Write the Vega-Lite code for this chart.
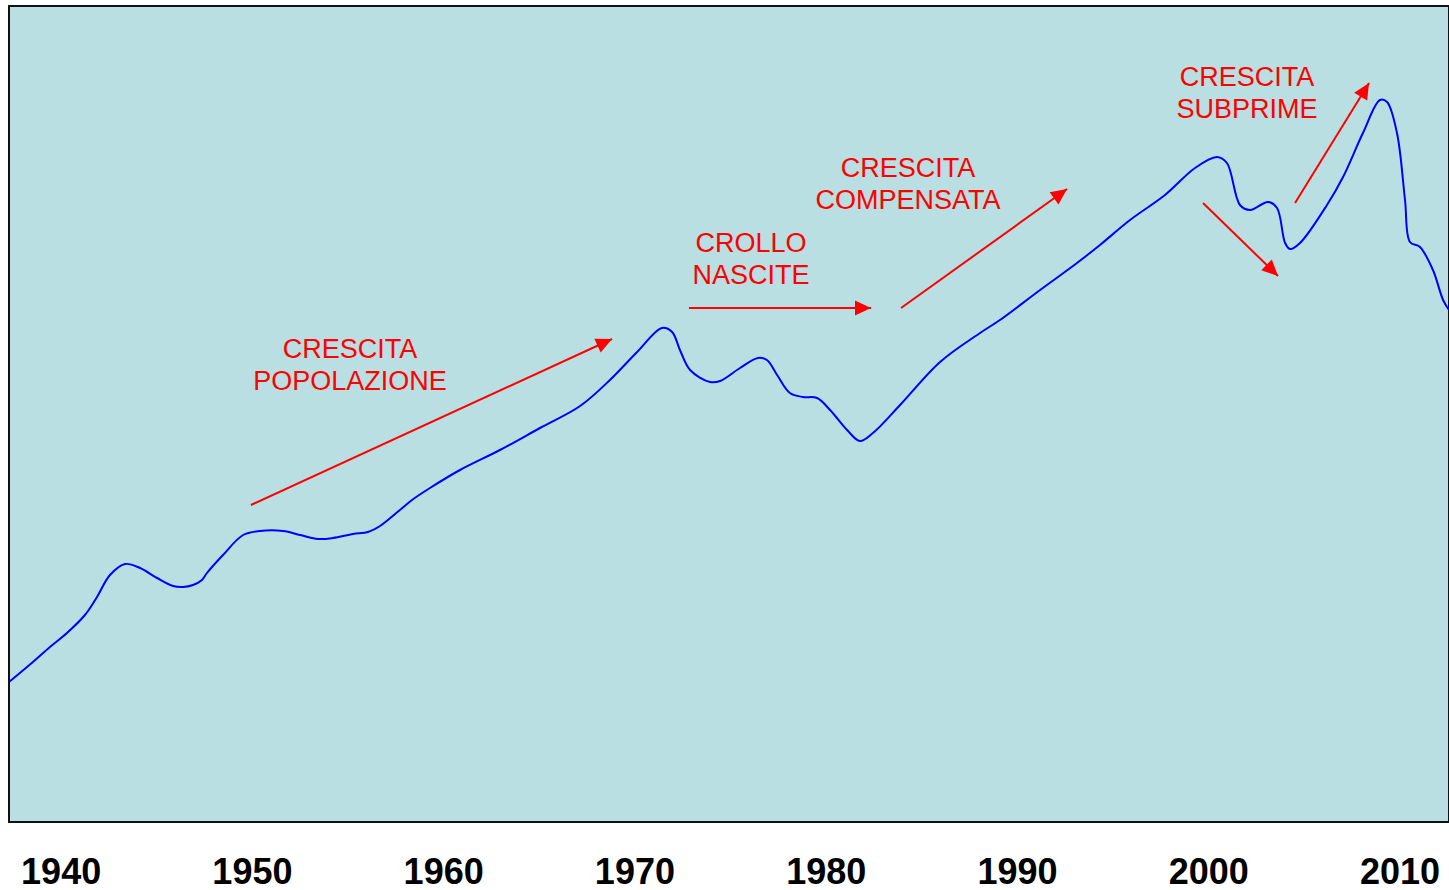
{
  "$schema": "https://vega.github.io/schema/vega-lite/v6.json",
  "width": 1440,
  "height": 816,
  "autosize": {"type": "none"},
  "padding": {"left": 9, "top": 6, "right": 0, "bottom": 68},
  "background": "#ffffff",
  "config": {
    "view": {"fill": "#BADFE2", "stroke": "#111111", "strokeWidth": 2},
    "font": "Liberation Sans"
  },
  "datasets": {
    "series": [
      {"year": 1937.30, "value": 140}, {"year": 1938.55, "value": 160}, {"year": 1939.44, "value": 175},
      {"year": 1940.33, "value": 189}, {"year": 1941.27, "value": 207}, {"year": 1941.90, "value": 225},
      {"year": 1942.58, "value": 247}, {"year": 1943.37, "value": 258}, {"year": 1944.15, "value": 254},
      {"year": 1945.04, "value": 244}, {"year": 1945.88, "value": 236}, {"year": 1946.40, "value": 235},
      {"year": 1946.92, "value": 237}, {"year": 1947.39, "value": 242}, {"year": 1947.65, "value": 249},
      {"year": 1948.49, "value": 267}, {"year": 1949.54, "value": 287}, {"year": 1950.42, "value": 291},
      {"year": 1951.63, "value": 291}, {"year": 1952.52, "value": 287}, {"year": 1953.46, "value": 283},
      {"year": 1954.24, "value": 284}, {"year": 1955.29, "value": 288}, {"year": 1956.07, "value": 290},
      {"year": 1956.70, "value": 296}, {"year": 1957.74, "value": 312}, {"year": 1958.37, "value": 322},
      {"year": 1959.31, "value": 334}, {"year": 1960.88, "value": 352}, {"year": 1962.97, "value": 372},
      {"year": 1965.06, "value": 394}, {"year": 1967.16, "value": 416}, {"year": 1968.72, "value": 442},
      {"year": 1970.14, "value": 470}, {"year": 1971.44, "value": 494}, {"year": 1971.97, "value": 490},
      {"year": 1972.38, "value": 472}, {"year": 1972.91, "value": 452}, {"year": 1973.95, "value": 440},
      {"year": 1974.48, "value": 441}, {"year": 1975.52, "value": 454}, {"year": 1976.46, "value": 464},
      {"year": 1976.93, "value": 462}, {"year": 1977.46, "value": 447}, {"year": 1978.13, "value": 429},
      {"year": 1978.81, "value": 425}, {"year": 1979.55, "value": 424}, {"year": 1980.23, "value": 412},
      {"year": 1981.12, "value": 392}, {"year": 1981.79, "value": 381}, {"year": 1982.47, "value": 389},
      {"year": 1983.89, "value": 417}, {"year": 1985.98, "value": 460}, {"year": 1988.07, "value": 489},
      {"year": 1989.11, "value": 502}, {"year": 1991.21, "value": 532}, {"year": 1993.14, "value": 559},
      {"year": 1994.34, "value": 577}, {"year": 1995.91, "value": 602}, {"year": 1997.74, "value": 627},
      {"year": 1999.31, "value": 654}, {"year": 2000.46, "value": 665}, {"year": 2000.98, "value": 659},
      {"year": 2001.66, "value": 617}, {"year": 2002.19, "value": 612}, {"year": 2003.13, "value": 620},
      {"year": 2003.60, "value": 614}, {"year": 2004.02, "value": 579}, {"year": 2004.28, "value": 573},
      {"year": 2004.80, "value": 579}, {"year": 2006.21, "value": 617}, {"year": 2007.05, "value": 645},
      {"year": 2008.09, "value": 689}, {"year": 2008.98, "value": 722}, {"year": 2009.35, "value": 720},
      {"year": 2009.87, "value": 689}, {"year": 2010.29, "value": 622}, {"year": 2010.55, "value": 580},
      {"year": 2011.07, "value": 575}, {"year": 2011.75, "value": 552}, {"year": 2012.28, "value": 522},
      {"year": 2012.59, "value": 512}
    ],
    "arrows": [
      {"year": 1949.95, "value": 317, "year2": 1968.83, "value2": 483},
      {"year": 1972.85, "value": 514, "year2": 1982.37, "value2": 514},
      {"year": 1983.94, "value": 514, "year2": 1992.62, "value2": 633},
      {"year": 1999.73, "value": 619, "year2": 2003.65, "value2": 546},
      {"year": 2004.54, "value": 619, "year2": 2008.41, "value2": 739}
    ],
    "labels": [
      {"year": 1955.13, "value": 472, "text": "CRESCITA"},
      {"year": 1955.13, "value": 440, "text": "POPOLAZIONE"},
      {"year": 1976.10, "value": 578, "text": "CROLLO"},
      {"year": 1976.10, "value": 546, "text": "NASCITE"},
      {"year": 1984.30, "value": 653, "text": "CRESCITA"},
      {"year": 1984.30, "value": 621, "text": "COMPENSATA"},
      {"year": 2002.03, "value": 744, "text": "CRESCITA"},
      {"year": 2002.03, "value": 712, "text": "SUBPRIME"}
    ]
  },
  "encoding": {
    "x": {
      "field": "year", "type": "quantitative",
      "scale": {"domain": [1937.3, 2012.59], "nice": false, "zero": false},
      "axis": {
        "title": null, "values": [1940, 1950, 1960, 1970, 1980, 1990, 2000, 2010],
        "format": "d", "grid": false, "ticks": false, "domain": false,
        "labelFont": "Liberation Sans", "labelFontSize": 36, "labelFontWeight": "bold",
        "labelColor": "#000000", "labelPadding": 33, "labelFlush": false, "labelOverlap": false
      }
    },
    "y": {
      "field": "value", "type": "quantitative",
      "scale": {"domain": [0, 816], "nice": false, "zero": false},
      "axis": null
    }
  },
  "layer": [
    {
      "data": {"name": "series"},
      "mark": {"type": "line", "color": "#0000FF", "strokeWidth": 2, "interpolate": "catmull-rom"}
    },
    {
      "data": {"name": "arrows"},
      "mark": {"type": "rule", "color": "#FF0000", "strokeWidth": 2},
      "encoding": {"x2": {"field": "year2"}, "y2": {"field": "value2"}}
    },
    {
      "data": {"name": "arrows"},
      "transform": [
        {"calculate": "atan2((datum.year2 - datum.year) * 19.126, datum.value2 - datum.value) * 180 / PI", "as": "angle"}
      ],
      "mark": {
        "type": "point", "filled": true, "color": "#FF0000", "opacity": 1,
        "shape": "M0,0L0.95,2L-0.95,2Z", "size": 256, "strokeWidth": 0
      },
      "encoding": {
        "x": {"field": "year2", "type": "quantitative"},
        "y": {"field": "value2", "type": "quantitative"},
        "angle": {"field": "angle", "type": "quantitative", "scale": null}
      }
    },
    {
      "data": {"name": "labels"},
      "mark": {"type": "text", "color": "#FF0000", "font": "Liberation Sans", "fontSize": 27, "align": "center", "baseline": "middle"},
      "encoding": {"text": {"field": "text"}}
    }
  ]
}
